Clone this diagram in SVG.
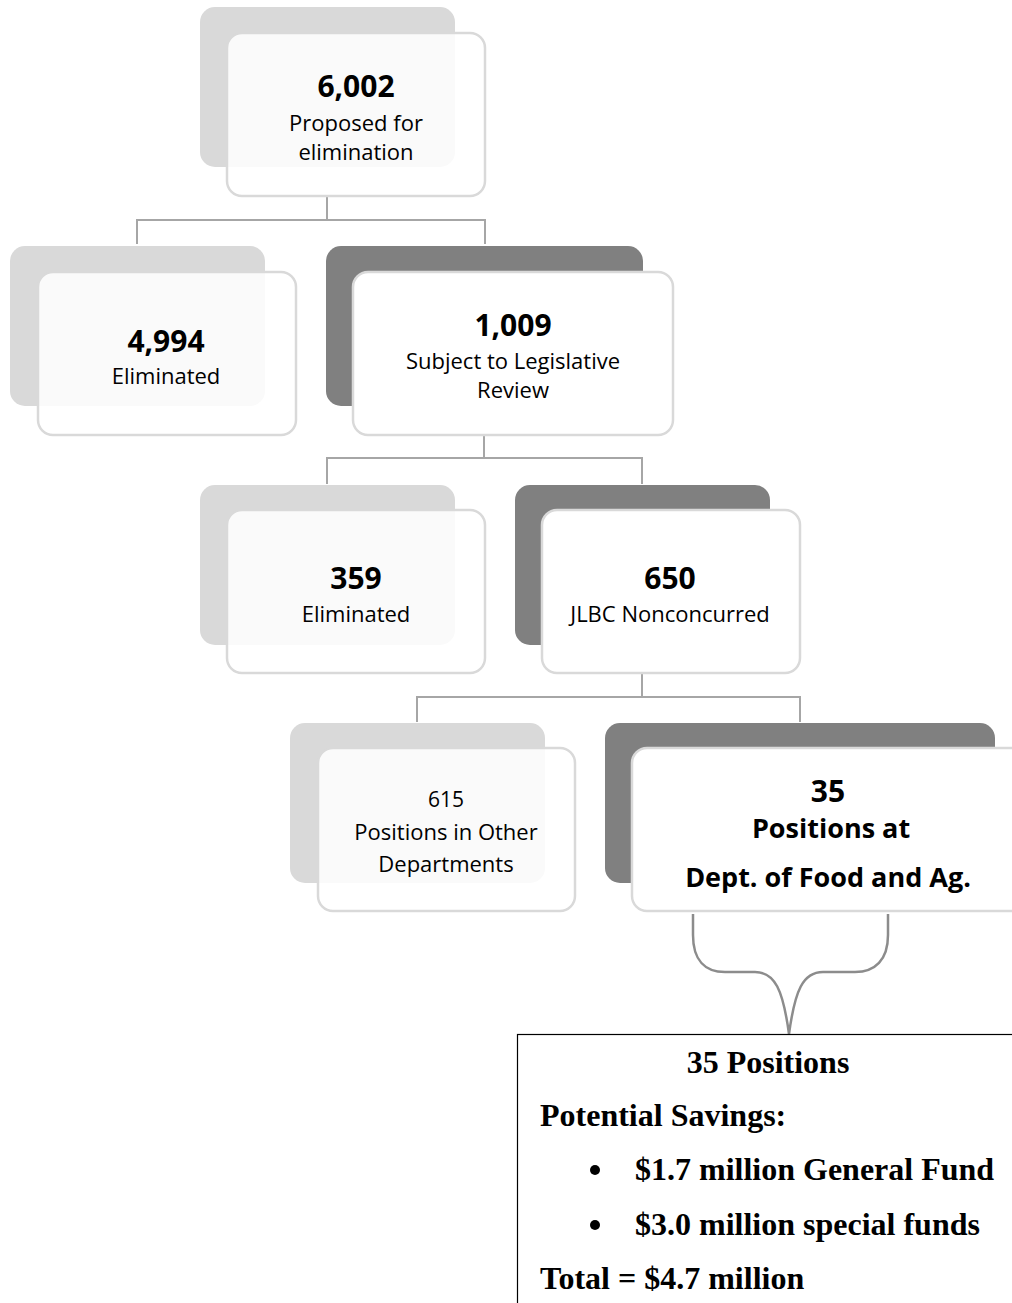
<svg xmlns="http://www.w3.org/2000/svg" width="1012" height="1303" viewBox="0 0 1012 1303">
<style>
.bl{fill:#d9d9d9}
.bd{fill:#808080}
.fl{fill:#ffffff;fill-opacity:0.85;stroke:#d9d9d9;stroke-width:2.5}
.fd{fill:#ffffff;stroke:#d9d9d9;stroke-width:2.5}
.num{font-family:"Open Sans",sans-serif;font-weight:bold;font-size:30px;fill:#000;text-anchor:middle}
.lab{font-family:"Open Sans",sans-serif;font-size:22px;fill:#000;text-anchor:middle}
.bld{font-family:"Open Sans",sans-serif;font-weight:bold;font-size:27px;fill:#000;text-anchor:middle}
.conn{fill:none;stroke:#a6a6a6;stroke-width:2}
.brace{fill:none;stroke:#8c8c8c;stroke-width:2.5}
.tn{font-family:"Liberation Serif",serif;font-weight:bold;font-size:32px;fill:#000}
</style>
<g id="connectors">
<path class="conn" d="M327 197V220M137 244V220H485V244"/>
<path class="conn" d="M484 436V458M327 484V458H642V484"/>
<path class="conn" d="M642 673V697M417 722V697H800V722"/>
<path class="brace" d="M693 914V935C693 960 705 972 725 972H755C775 972 783 990 789 1034C795 990 803 972 823 972H855C875 972 888 960 888 935V914"/>
</g>
<g id="n1">
<rect class="bl" x="200" y="7" width="255" height="160" rx="15"/>
<rect class="fl" x="227" y="33" width="258" height="163" rx="15"/>
<text class="num" x="356" y="97">6,002</text>
<text class="lab" x="356" y="131">Proposed for</text>
<text class="lab" x="356" y="160">elimination</text>
</g>
<g id="n2">
<rect class="bl" x="10" y="246" width="255" height="160" rx="15"/>
<rect class="fl" x="38" y="272" width="258" height="163" rx="15"/>
<text class="num" x="166" y="352">4,994</text>
<text class="lab" x="166" y="384">Eliminated</text>
</g>
<g id="n3">
<rect class="bd" x="326" y="246" width="317" height="160" rx="15"/>
<rect class="fd" x="353" y="272" width="320" height="163" rx="15"/>
<text class="num" x="513" y="336">1,009</text>
<text class="lab" x="513" y="369">Subject to Legislative</text>
<text class="lab" x="513" y="398">Review</text>
</g>
<g id="n4">
<rect class="bl" x="200" y="485" width="255" height="160" rx="15"/>
<rect class="fl" x="227" y="510" width="258" height="163" rx="15"/>
<text class="num" x="356" y="589">359</text>
<text class="lab" x="356" y="622">Eliminated</text>
</g>
<g id="n5">
<rect class="bd" x="515" y="485" width="255" height="160" rx="15"/>
<rect class="fd" x="542" y="510" width="258" height="163" rx="15"/>
<text class="num" x="670" y="589">650</text>
<text class="lab" x="670" y="622">JLBC Nonconcurred</text>
</g>
<g id="n6">
<rect class="bl" x="290" y="723" width="255" height="160" rx="15"/>
<rect class="fl" x="318" y="748" width="257" height="163" rx="15"/>
<text class="lab" x="446" y="807" style="font-size:21px">615</text>
<text class="lab" x="446" y="840">Positions in Other</text>
<text class="lab" x="446" y="872">Departments</text>
</g>
<g id="n7">
<rect class="bd" x="605" y="723" width="390" height="160" rx="15"/>
<rect class="fd" x="632" y="748" width="400" height="163" rx="15"/>
<text class="num" x="828" y="802">35</text>
<text class="bld" x="831" y="838">Positions at</text>
<text class="bld" x="828" y="887">Dept. of Food and Ag.</text>
</g>
<g id="savings">
<rect x="517.5" y="1034.5" width="520" height="300" fill="#fff" stroke="#000" stroke-width="1.2"/>
<text class="tn" x="768" y="1073" text-anchor="middle">35 Positions</text>
<text class="tn" x="540" y="1126">Potential Savings:</text>
<circle cx="595" cy="1170" r="5"/>
<text class="tn" x="635" y="1180">$1.7 million General Fund</text>
<circle cx="595" cy="1225" r="5"/>
<text class="tn" x="635" y="1235">$3.0 million special funds</text>
<text class="tn" x="540" y="1289">Total = $4.7 million</text>
</g>
</svg>
